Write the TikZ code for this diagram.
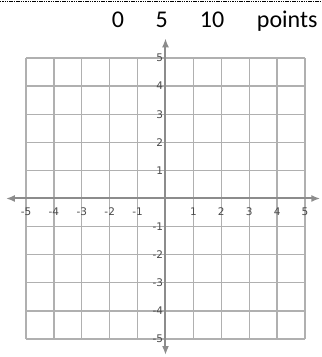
\documentclass[tikz,border=0pt]{standalone}
\usepackage{fontspec}
\setmainfont{Carlito}
\newfontfamily\labelfont{DejaVu Sans}
\usepackage{tikz}
\usetikzlibrary{arrows.meta}

\tikzset{
  gridline/.style={color=gridgray, line width=1.3pt},
  axisline/.style={color=axisgray, line width=2pt, {Latex[length=9pt,width=7pt]}-{Latex[length=9pt,width=7pt]}},
  ticklabel/.style={font=\labelfont\fontsize{10.5}{11}\selectfont, text=labelgray, inner sep=0pt},
  toptext/.style={font=\fontsize{24}{26}\selectfont, inner sep=0pt, anchor=base}
}
\definecolor{gridgray}{HTML}{B0B0B0}
\definecolor{axisgray}{HTML}{8C8C8C}
\definecolor{labelgray}{HTML}{4A4A4A}

\begin{document}
\begin{tikzpicture}[x=27.9pt, y=28.1pt]
\useasboundingbox (-5.932,-5.641) rectangle (5.574,7.064);
	\draw[black, line width=1.5pt, dash pattern=on 1.5pt off 0.8pt] (-5.932,7.01) -- (5.574,7.01);
	\node[toptext] (zero) at (-1.70,6.10) {0};
	\node[toptext] (five) at (-0.14,6.10) {5};
	\node[toptext] (ten) at (1.67,6.10) {10};
	\node[toptext, anchor=base west] (points) at (3.27,6.10) {points};
	\draw[gridline, step={(1,1)}] (-5,-5) grid (5,5);
	\coordinate (xleft) at (-5.72,0);
	\coordinate (xright) at (5.55,0);
	\coordinate (ytop) at (0,5.70);
	\coordinate (ybottom) at (0,-5.57);
	\draw[axisline] (xleft) -- (xright);
	\draw[axisline] (ybottom) -- (ytop);
	\node[ticklabel] (xm5) at (-5,-0.47) {-5};
	\node[ticklabel] (xm4) at (-4,-0.47) {-4};
	\node[ticklabel] (xm3) at (-3,-0.47) {-3};
	\node[ticklabel] (xm2) at (-2,-0.47) {-2};
	\node[ticklabel] (xm1) at (-1,-0.47) {-1};
	\node[ticklabel] (xp1) at (1,-0.47) {1};
	\node[ticklabel] (xp2) at (2,-0.47) {2};
	\node[ticklabel] (xp3) at (3,-0.47) {3};
	\node[ticklabel] (xp4) at (4,-0.47) {4};
	\node[ticklabel] (xp5) at (5,-0.47) {5};
	\node[ticklabel, anchor=east] (yp5) at (-0.08,5) {5};
	\node[ticklabel, anchor=east] (yp4) at (-0.08,4) {4};
	\node[ticklabel, anchor=east] (yp3) at (-0.08,3) {3};
	\node[ticklabel, anchor=east] (yp2) at (-0.08,2) {2};
	\node[ticklabel, anchor=east] (yp1) at (-0.08,1) {1};
	\node[ticklabel, anchor=east] (ym1) at (-0.08,-1) {-1};
	\node[ticklabel, anchor=east] (ym2) at (-0.08,-2) {-2};
	\node[ticklabel, anchor=east] (ym3) at (-0.08,-3) {-3};
	\node[ticklabel, anchor=east] (ym4) at (-0.08,-4) {-4};
	\node[ticklabel, anchor=east] (ym5) at (-0.08,-5) {-5};
\end{tikzpicture}
\end{document}
